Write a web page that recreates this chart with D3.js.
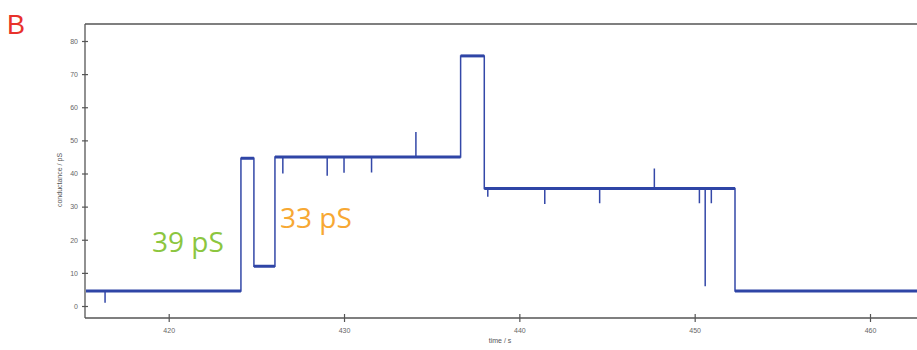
<!DOCTYPE html>
<html>
<head>
<meta charset="utf-8">
<script src="https://cdn.jsdelivr.net/npm/d3@7"></script>
<style>
  html, body { margin: 0; padding: 0; background: #fff; }
  svg { display: block; }
</style>
</head>
<body>
<svg id="chart" width="917" height="350"></svg>
<script>
// ---- data ----
const yTicks = [0, 10, 20, 30, 40, 50, 60, 70, 80];
const xTicks = [420, 430, 440, 450, 460];
// step levels of the conductance trace (start time, level in pS)
const segStart = [415.2, 424.12, 424.86, 426.06, 436.65, 438.0, 452.3];
const segLevel = [4.5, 44.6, 12.0, 45.0, 75.5, 35.5, 4.5];
const traceEnd = 462.8;
// brief spikes (time, peak value)
const spikeTime = [416.37, 426.51, 429.04, 430.0, 431.57, 434.1, 438.2, 441.45, 444.58, 447.7, 450.27, 450.6, 450.95];
const spikeValue = [1.0, 40.0, 39.3, 40.2, 40.3, 52.5, 33.0, 30.8, 31.0, 41.5, 31.0, 6.0, 31.0];
const annotations = [
  { text: "39 pS", color: "#8cc63f" },
  { text: "33 pS", color: "#f7a833" }
];

// ---- drawing ----
const svg = d3.select("#chart");
const x = d3.scaleLinear().domain([420, 460]).range([168.7, 870]);
const y = d3.scaleLinear().domain([0, 80]).range([306, 41]);
const pLeft = 85, pTop = 24, pBottom = 318, pRight = 917;
const axisColor = "#555";
const labelFont = "Liberation Sans, Arial, sans-serif";

// panel letter
svg.append("text").attr("x", 7).attr("y", 34)
  .attr("font-family", labelFont)
  .attr("font-size", 27).attr("fill", "#e8322b").text("B");

// frame lines
svg.append("line").attr("x1", pLeft).attr("x2", pRight).attr("y1", pTop).attr("y2", pTop)
  .attr("stroke", axisColor).attr("stroke-width", 1.3);

// y axis
const gy = svg.append("g").attr("transform", `translate(${pLeft},0)`)
  .call(d3.axisLeft(y).tickValues(yTicks).tickSize(3).tickPadding(4));
gy.select(".domain").remove();
gy.selectAll(".tick line").attr("x1", -3).attr("x2", 3).attr("stroke", axisColor).attr("stroke-width", 1.2);
gy.selectAll(".tick text").attr("font-size", 7).attr("fill", "#666")
  .attr("font-family", labelFont);
svg.append("line").attr("x1", pLeft).attr("x2", pLeft).attr("y1", pTop).attr("y2", pBottom)
  .attr("stroke", axisColor).attr("stroke-width", 1.3);

// x axis
const gx = svg.append("g").attr("transform", `translate(0,${pBottom})`)
  .call(d3.axisBottom(x).tickValues(xTicks).tickSize(4).tickPadding(6));
gx.select(".domain").remove();
gx.selectAll(".tick line").attr("y1", -4).attr("y2", 4).attr("stroke", axisColor).attr("stroke-width", 1.2);
gx.selectAll(".tick text").attr("font-size", 7).attr("fill", "#666")
  .attr("font-family", labelFont);
svg.append("line").attr("x1", pLeft).attr("x2", pRight).attr("y1", pBottom).attr("y2", pBottom)
  .attr("stroke", axisColor).attr("stroke-width", 1.3);

// axis titles
svg.append("text").attr("transform", `translate(62,180) rotate(-90)`)
  .attr("text-anchor", "middle").attr("font-size", 7).attr("fill", "#555")
  .attr("font-family", labelFont).text("conductance / pS");
svg.append("text").attr("x", 500).attr("y", 343)
  .attr("text-anchor", "middle").attr("font-size", 7).attr("fill", "#555")
  .attr("font-family", labelFont).text("time / s");

// build trace points
const pts = [];
segStart.forEach((t0, i) => {
  const t1 = i + 1 < segStart.length ? segStart[i + 1] : traceEnd;
  const lv = segLevel[i];
  pts.push([t0, lv]);
  spikeTime.forEach((ts, j) => {
    if (ts > t0 && ts < t1) {
      pts.push([ts, lv]); pts.push([ts, spikeValue[j]]); pts.push([ts, lv]);
    }
  });
  pts.push([t1, lv]);
});
const line = d3.line().x(d => x(d[0])).y(d => y(d[1]));
svg.append("defs").append("clipPath").attr("id", "clip")
  .append("rect").attr("x", pLeft + 1).attr("y", pTop).attr("width", pRight - pLeft).attr("height", pBottom - pTop);
svg.append("path").datum(pts).attr("d", line)
  .attr("clip-path", "url(#clip)")
  .attr("fill", "none").attr("stroke", "#3448a8").attr("stroke-width", 1.5)
  .attr("stroke-linejoin", "miter");
// thicker noise band for flat levels
svg.append("g").attr("clip-path", "url(#clip)").selectAll("line.band")
  .data(segStart).join("line")
  .attr("x1", (d) => x(d))
  .attr("x2", (d, i) => x(i + 1 < segStart.length ? segStart[i + 1] : traceEnd))
  .attr("y1", (d, i) => y(segLevel[i])).attr("y2", (d, i) => y(segLevel[i]))
  .attr("stroke", "#2f45a6").attr("stroke-width", 3);

// annotations
svg.append("text").attr("x", 152).attr("y", 252)
  .attr("font-family", "Open Sans, Liberation Sans, sans-serif")
  .attr("font-size", 28).attr("fill", annotations[0].color).text(annotations[0].text);
svg.append("text").attr("x", 280).attr("y", 228)
  .attr("font-family", "Open Sans, Liberation Sans, sans-serif")
  .attr("font-size", 28).attr("fill", annotations[1].color).text(annotations[1].text);
</script>
</body>
</html>
